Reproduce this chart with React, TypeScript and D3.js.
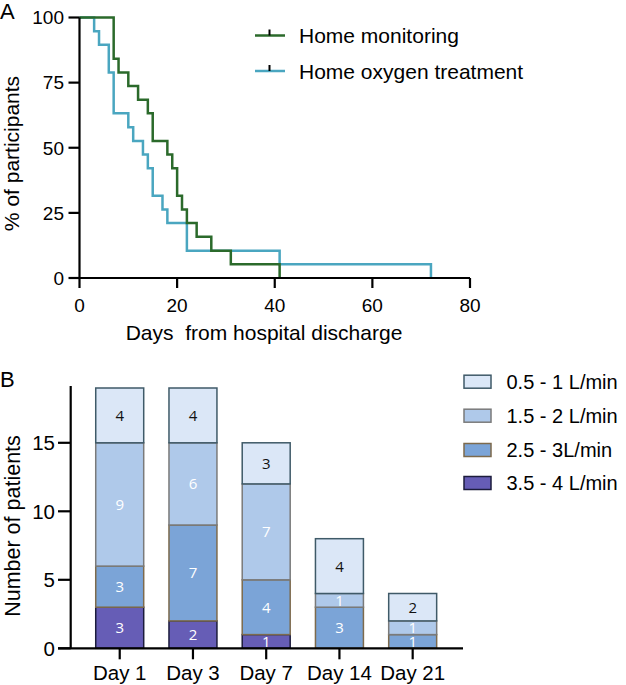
import React from "react";
import * as d3 from "d3";

// ---- Panel A data (Kaplan-Meier style step curves) ----
const monitoringDays = [0, 7, 8, 10, 12, 14, 15, 18, 19, 20, 21, 22, 24, 27, 31, 41];
const monitoringPct = [100, 84.2, 78.9, 73.7, 68.4, 63.2, 52.6, 47.4, 42.1, 31.6, 26.3, 21.1, 15.8, 10.5, 5.3, 0];
const oxygenDays = [0, 3, 4, 6, 7, 10, 11, 13, 14, 15, 17, 18, 22, 41, 72];
const oxygenPct = [100, 94.7, 89.5, 78.9, 63.2, 57.9, 52.6, 47.4, 42.1, 31.6, 26.3, 21.1, 10.5, 5.3, 0];
const xTicksA = [0, 20, 40, 60, 80];
const yTicksA = [0, 25, 50, 75, 100];
const seriesNamesA = ["Home monitoring", "Home oxygen treatment"];

// ---- Panel B data (stacked bars) ----
const days = ["Day 1", "Day 3", "Day 7", "Day 14", "Day 21"];
const flowKeys = ["3.5 - 4 L/min", "2.5 - 3L/min", "1.5 - 2 L/min", "0.5 - 1 L/min"];
const flow35to4 = [3, 2, 1, 0, 0];
const flow25to3 = [3, 7, 4, 3, 1];
const flow15to2 = [9, 6, 7, 1, 1];
const flow05to1 = [4, 4, 3, 4, 2];
const yTicksB = [0, 5, 10, 15];

const AX = "'Liberation Sans', Arial, Helvetica, sans-serif";
const NUM = "'Open Sans', 'Noto Sans', sans-serif";

const fills: Record<string, string> = {
  "0.5 - 1 L/min": "#dbe7f7",
  "1.5 - 2 L/min": "#afc9ea",
  "2.5 - 3L/min": "#7ba4d7",
  "3.5 - 4 L/min": "#665db6",
};
const strokes: Record<string, string> = {
  "0.5 - 1 L/min": "#3f5a68",
  "1.5 - 2 L/min": "#7a7a7a",
  "2.5 - 3L/min": "#7d6a4c",
  "3.5 - 4 L/min": "#1c1c3c",
};
const textColors: Record<string, string> = {
  "0.5 - 1 L/min": "#111",
  "1.5 - 2 L/min": "#fff",
  "2.5 - 3L/min": "#fff",
  "3.5 - 4 L/min": "#fff",
};

const GREEN = "#2b6a2b";
const BLUE = "#4aa6c0";

export default function App() {
  // Panel A scales
  const xA = d3.scaleLinear().domain([0, 80]).range([79.5, 470]);
  const yA = d3.scaleLinear().domain([0, 100]).range([278, 17.5]);
  const line = d3
    .line<[number, number]>()
    .x((d) => xA(d[0]))
    .y((d) => yA(d[1]))
    .curve(d3.curveStepAfter);
  const monPts = monitoringDays.map((d, i) => [d, monitoringPct[i]] as [number, number]);
  const oxyPts = oxygenDays.map((d, i) => [d, oxygenPct[i]] as [number, number]);

  // Panel B scales
  const xB = d3.scaleBand<string>().domain(days).range([83.1, 449.3]).paddingInner(0.345).paddingOuter(0.1725);
  const yB = d3.scaleLinear().domain([0, 19]).range([648.3, 388]);
  const rows = days.map((day, i) => ({
    day,
    "3.5 - 4 L/min": flow35to4[i],
    "2.5 - 3L/min": flow25to3[i],
    "1.5 - 2 L/min": flow15to2[i],
    "0.5 - 1 L/min": flow05to1[i],
  }));
  const stacked = d3.stack<any>().keys(flowKeys)(rows as any);
  const legendOrder = ["0.5 - 1 L/min", "1.5 - 2 L/min", "2.5 - 3L/min", "3.5 - 4 L/min"];
  const legendY = [381.7, 415.7, 450, 483];

  return (
    <svg width={626} height={685} style={{ position: "absolute", left: 0, top: 0, display: "block" }}>
      {/* Panel A */}
      <text x={0} y={18.5} fontFamily={AX} fontSize={22}>A</text>
      <path d={line(oxyPts) || ""} fill="none" stroke={BLUE} strokeWidth={2.5} />
      <path d={line(monPts) || ""} fill="none" stroke={GREEN} strokeWidth={2.5} />
      {/* axes A */}
      <line x1={xA(0)} x2={xA(80)} y1={yA(0)} y2={yA(0)} stroke="#000" strokeWidth={2.2} />
      <line x1={xA(0)} x2={xA(0)} y1={yA(100)} y2={yA(0) + 1} stroke="#000" strokeWidth={2.2} />
      {xTicksA.map((t) => (
        <g key={"xa" + t}>
          <line x1={xA(t)} x2={xA(t)} y1={yA(0)} y2={yA(0) + 10} stroke="#000" strokeWidth={2.2} />
          <text x={xA(t)} y={311.5} textAnchor="middle" fontFamily={AX} fontSize={19}>{t}</text>
        </g>
      ))}
      {yTicksA.map((t) => (
        <g key={"ya" + t}>
          <line x1={xA(0) - 11} x2={xA(0)} y1={yA(t)} y2={yA(t)} stroke="#000" strokeWidth={2.2} />
          <text x={64} y={yA(t)} dy="0.36em" textAnchor="end" fontFamily={AX} fontSize={19}>{t}</text>
        </g>
      ))}
      <text x={264} y={340} textAnchor="middle" fontFamily={AX} fontSize={21} style={{ whiteSpace: "pre" }}>{"Days  from hospital discharge"}</text>
      <text transform="translate(18.5,153.5) rotate(-90)" textAnchor="middle" fontFamily={AX} fontSize={21}>% of participants</text>
      {/* legend A */}
      {seriesNamesA.map((name, i) => {
        const y = i === 0 ? 35.5 : 71;
        const c = i === 0 ? GREEN : BLUE;
        return (
          <g key={name}>
            <line x1={255} x2={285} y1={y} y2={y} stroke={c} strokeWidth={2.5} />
            <line x1={269.5} x2={269.5} y1={y - 6} y2={y} stroke="#000" strokeWidth={2} />
            <text x={299} y={y} dy="0.36em" fontFamily={AX} fontSize={21}>{name}</text>
          </g>
        );
      })}

      {/* Panel B */}
      <text x={0} y={387} fontFamily={AX} fontSize={22}>B</text>
      {stacked.map((layer: any) => (
        <g key={layer.key}>
          {layer.map((d: any, i: number) => {
            const v = d[1] - d[0];
            if (v <= 0) return null;
            const x = xB(days[i])!;
            const y0 = yB(d[0]);
            const y1 = yB(d[1]);
            return (
              <g key={i}>
                <rect x={x} y={y1} width={xB.bandwidth()} height={y0 - y1} fill={fills[layer.key]} stroke={strokes[layer.key]} strokeWidth={1.5} />
                <text x={x + xB.bandwidth() / 2} y={(y0 + y1) / 2} dy="0.36em" textAnchor="middle" fontFamily={NUM} fontSize={15} fill={textColors[layer.key]}>{v}</text>
              </g>
            );
          })}
        </g>
      ))}
      {/* axes B */}
      <line x1={58} x2={463} y1={yB(0)} y2={yB(0)} stroke="#000" strokeWidth={2.2} />
      <line x1={70.7} x2={70.7} y1={yB(19) - 2} y2={yB(0)} stroke="#000" strokeWidth={2.2} />
      {yTicksB.map((t) => (
        <g key={"yb" + t}>
          <line x1={58} x2={70.7} y1={yB(t)} y2={yB(t)} stroke="#000" strokeWidth={2.2} />
          <text x={55} y={yB(t)} dy="0.36em" textAnchor="end" fontFamily={AX} fontSize={20.5}>{t}</text>
        </g>
      ))}
      {days.map((d) => (
        <g key={"xb" + d}>
          <line x1={xB(d)! + xB.bandwidth() / 2} x2={xB(d)! + xB.bandwidth() / 2} y1={yB(0)} y2={yB(0) + 11} stroke="#000" strokeWidth={2.2} />
          <text x={xB(d)! + xB.bandwidth() / 2} y={680} textAnchor="middle" fontFamily={AX} fontSize={20.5}>{d}</text>
        </g>
      ))}
      <text transform="translate(19.5,526) rotate(-90)" textAnchor="middle" fontFamily={AX} fontSize={21.5}>Number of patients</text>
      {/* legend B */}
      {legendOrder.map((k, i) => (
        <g key={"lg" + k}>
          <rect x={464} y={legendY[i] - 6.5} width={27} height={13} fill={fills[k]} stroke={strokes[k]} strokeWidth={1.5} />
          <text x={506.5} y={legendY[i]} dy="0.36em" fontFamily={AX} fontSize={20}>{k}</text>
        </g>
      ))}
    </svg>
  );
}
